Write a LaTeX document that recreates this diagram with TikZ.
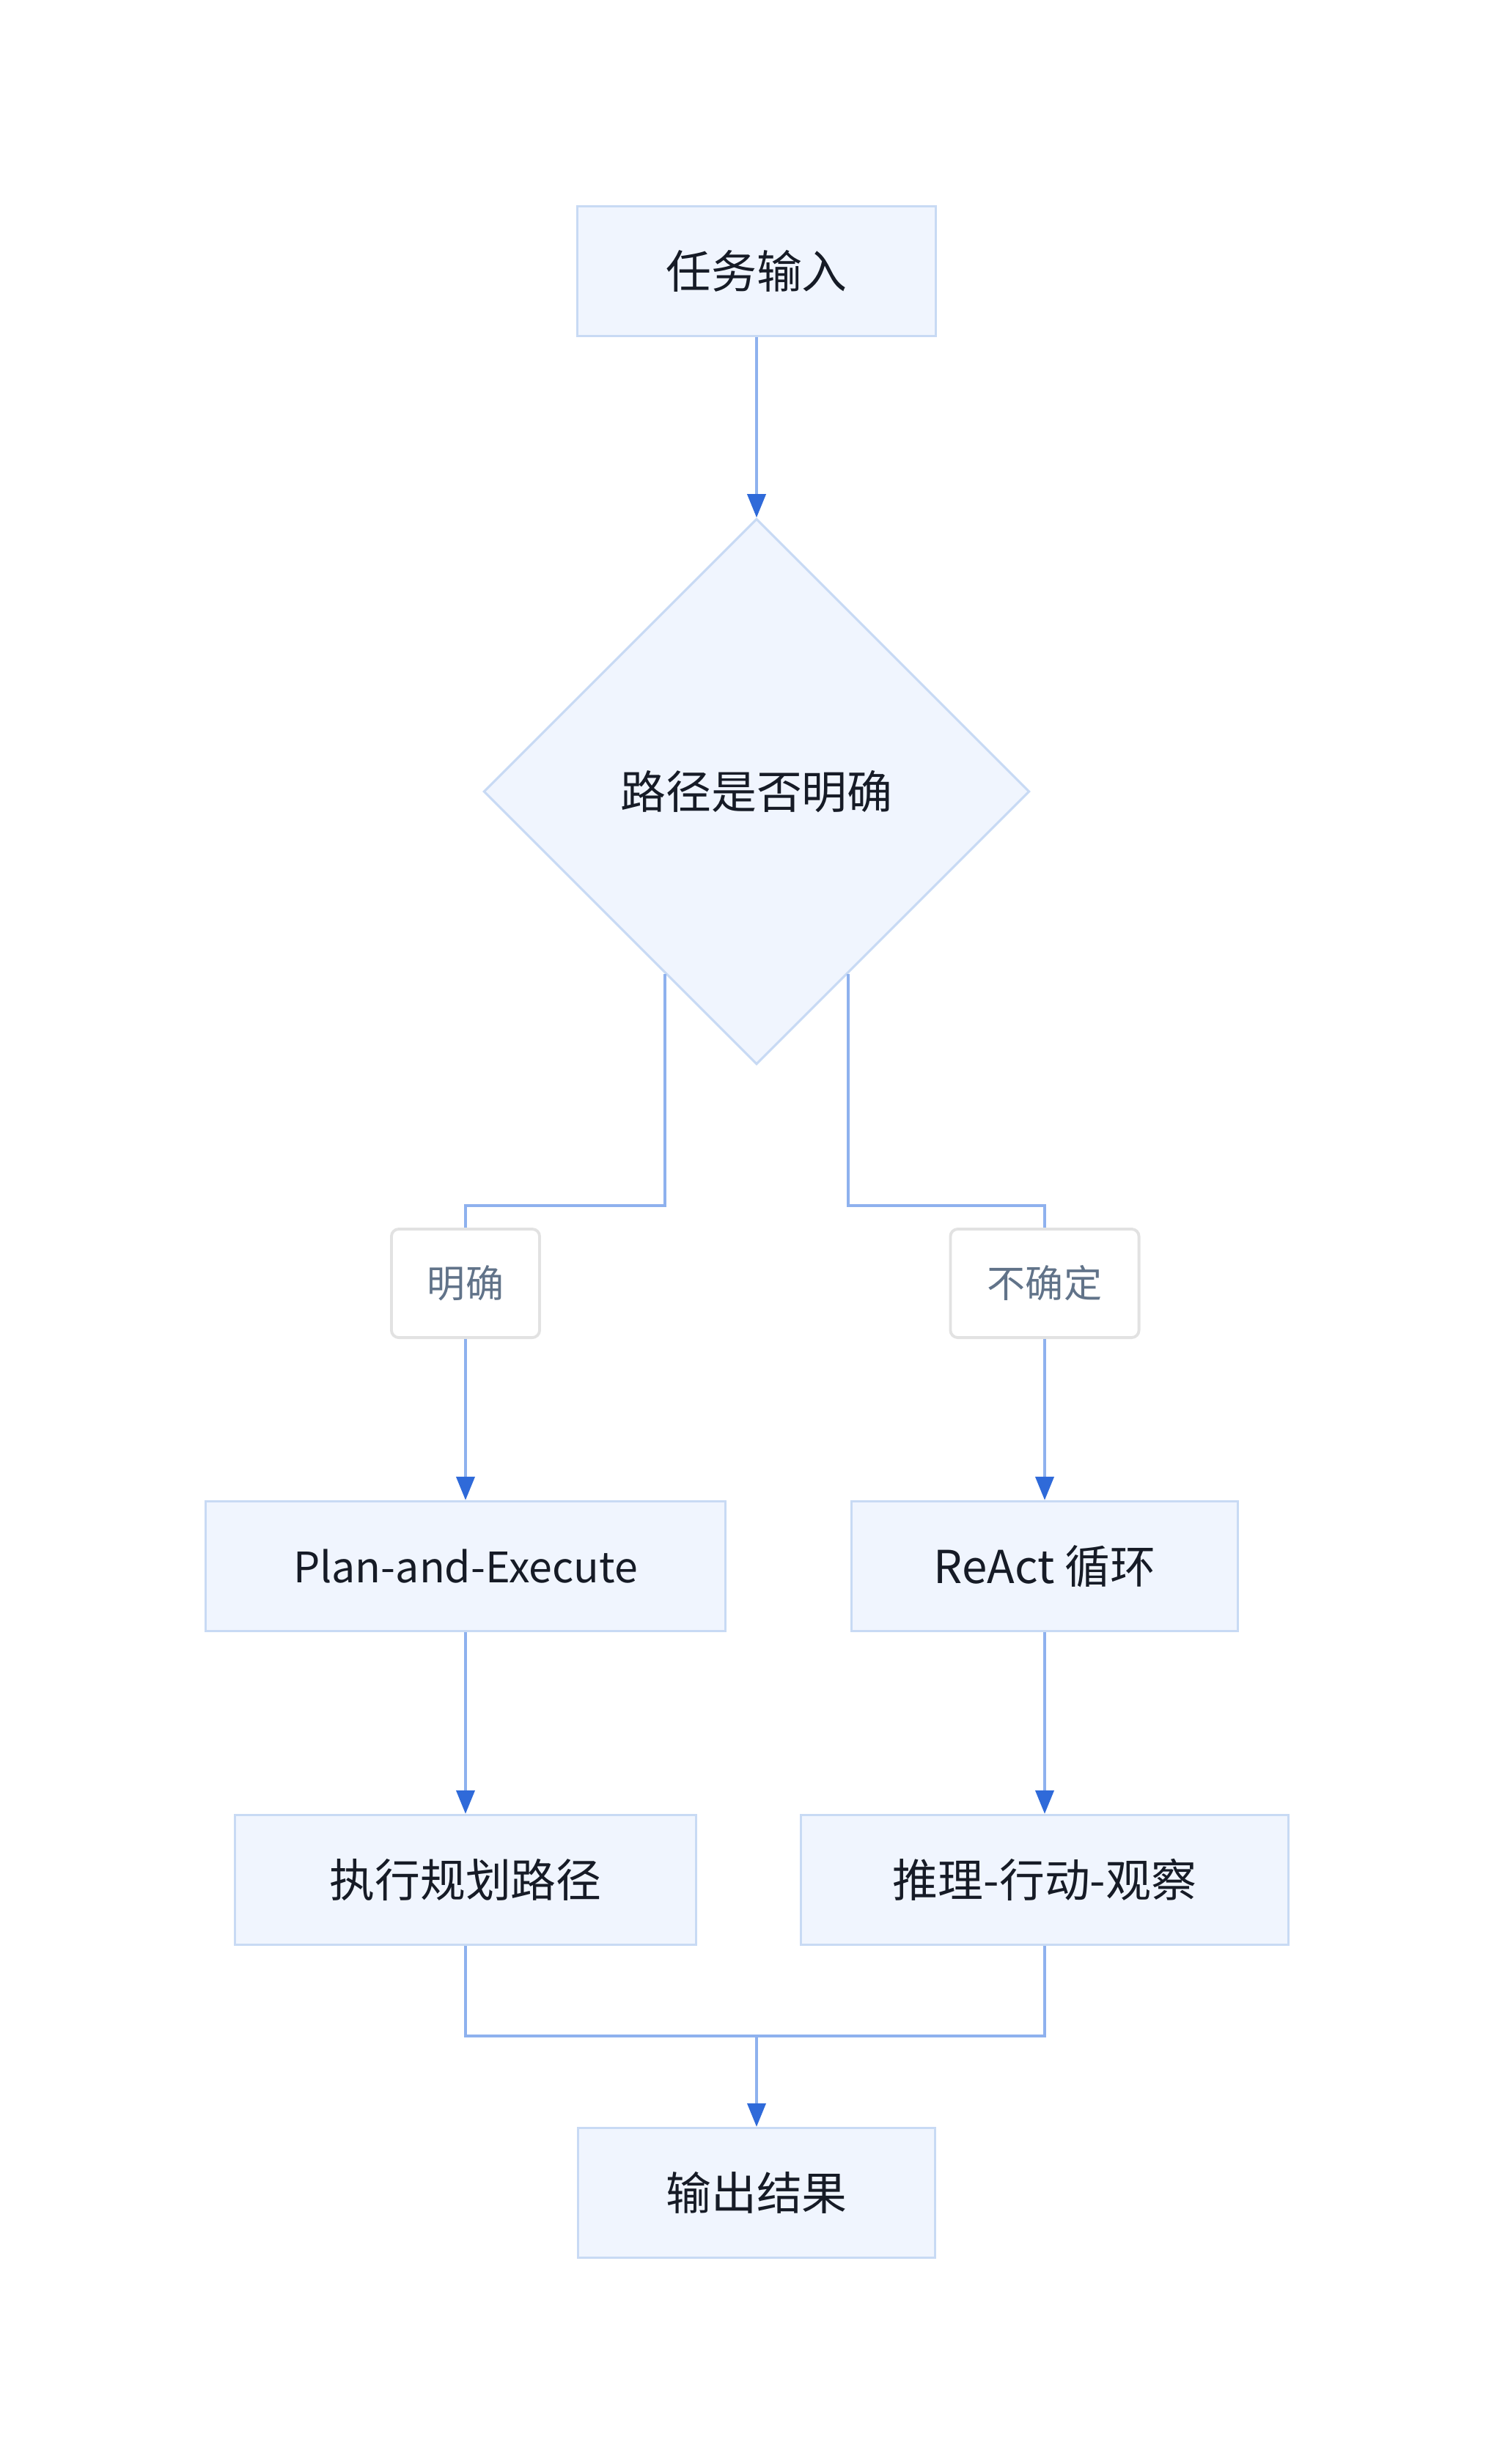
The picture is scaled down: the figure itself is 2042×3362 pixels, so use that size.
\documentclass[tikz,border=0pt]{standalone}
\usepackage{fontspec}
\setmainfont{Noto Sans CJK SC}
\usetikzlibrary{shapes.geometric,arrows.meta,calc}
\definecolor{boxfill}{HTML}{F0F5FE}
\definecolor{boxline}{HTML}{C8DAF4}
\definecolor{edgeline}{HTML}{8EB1EE}
\definecolor{tipblue}{HTML}{2F6AD9}
\definecolor{txt}{HTML}{161B26}
\definecolor{lblline}{HTML}{E2E2E2}
\definecolor{lbltxt}{HTML}{617389}
\begin{document}
\begin{tikzpicture}[x=0.01cm,y=-0.01cm,
  procbox/.style={draw=boxline,fill=boxfill,line width=0.9pt,inner sep=0pt,
    minimum height=1.77cm,text=txt,font=\fontsize{17.6pt}{20pt}\selectfont},
  decbox/.style={diamond,draw=boxline,fill=boxfill,line width=0.9pt,inner sep=0pt,
    minimum width=7.44cm,minimum height=7.44cm,text=txt,font=\fontsize{17.6pt}{20pt}\selectfont},
  lblbox/.style={draw=lblline,fill=white,line width=1.1pt,rounded corners=0.1cm,inner sep=0pt,
    minimum height=1.48cm,text=lbltxt,font=\fontsize{14.8pt}{17pt}\selectfont},
  conn/.style={draw=edgeline,line width=1.1pt},
  arr/.style={conn,-{Triangle[length=0.32cm,width=0.25cm,color=tipblue]}}
]
\useasboundingbox (0,0) rectangle (2042,3362);
\node[procbox,minimum width=4.88cm] (in) at (1032,370) {任务输入};
\node[decbox] (d) at (1032,1080) {路径是否明确};
\node[lblbox,minimum width=2.02cm] (l1) at (635,1751) {明确};
\node[lblbox,minimum width=2.57cm] (l2) at (1425,1751) {不确定};
\node[procbox,minimum width=7.08cm,font=\fontsize{16.3pt}{20pt}\selectfont] (pe) at (635,2137) {Plan-and-Execute};
\node[procbox,minimum width=5.27cm] (ra) at (1425,2137) {ReAct 循环};
\node[procbox,minimum width=6.28cm] (ex) at (635,2565) {执行规划路径};
\node[procbox,minimum width=6.65cm] (ro) at (1425,2565) {推理-行动-观察};
\node[procbox,minimum width=4.87cm] (out) at (1032,2992) {输出结果};

\coordinate (dl) at ($(d.west)!0.665!(d.south)$);
\coordinate (dr) at ($(d.east)!0.665!(d.south)$);
\coordinate (mg) at (1032,2778);

\draw[arr] (in) -- (d.north);
\draw[conn] (dl) -- (dl |- 0,1645) -| (l1.north);
\draw[conn] (dr) -- (dr |- 0,1645) -| (l2.north);
\draw[arr] (l1) -- (pe);
\draw[arr] (l2) -- (ra);
\draw[arr] (pe) -- (ex);
\draw[arr] (ra) -- (ro);
\draw[conn] (ex.south) |- (mg);
\draw[conn] (ro.south) |- (mg);
\draw[arr] (mg) -- (out.north);
\end{tikzpicture}
\end{document}
